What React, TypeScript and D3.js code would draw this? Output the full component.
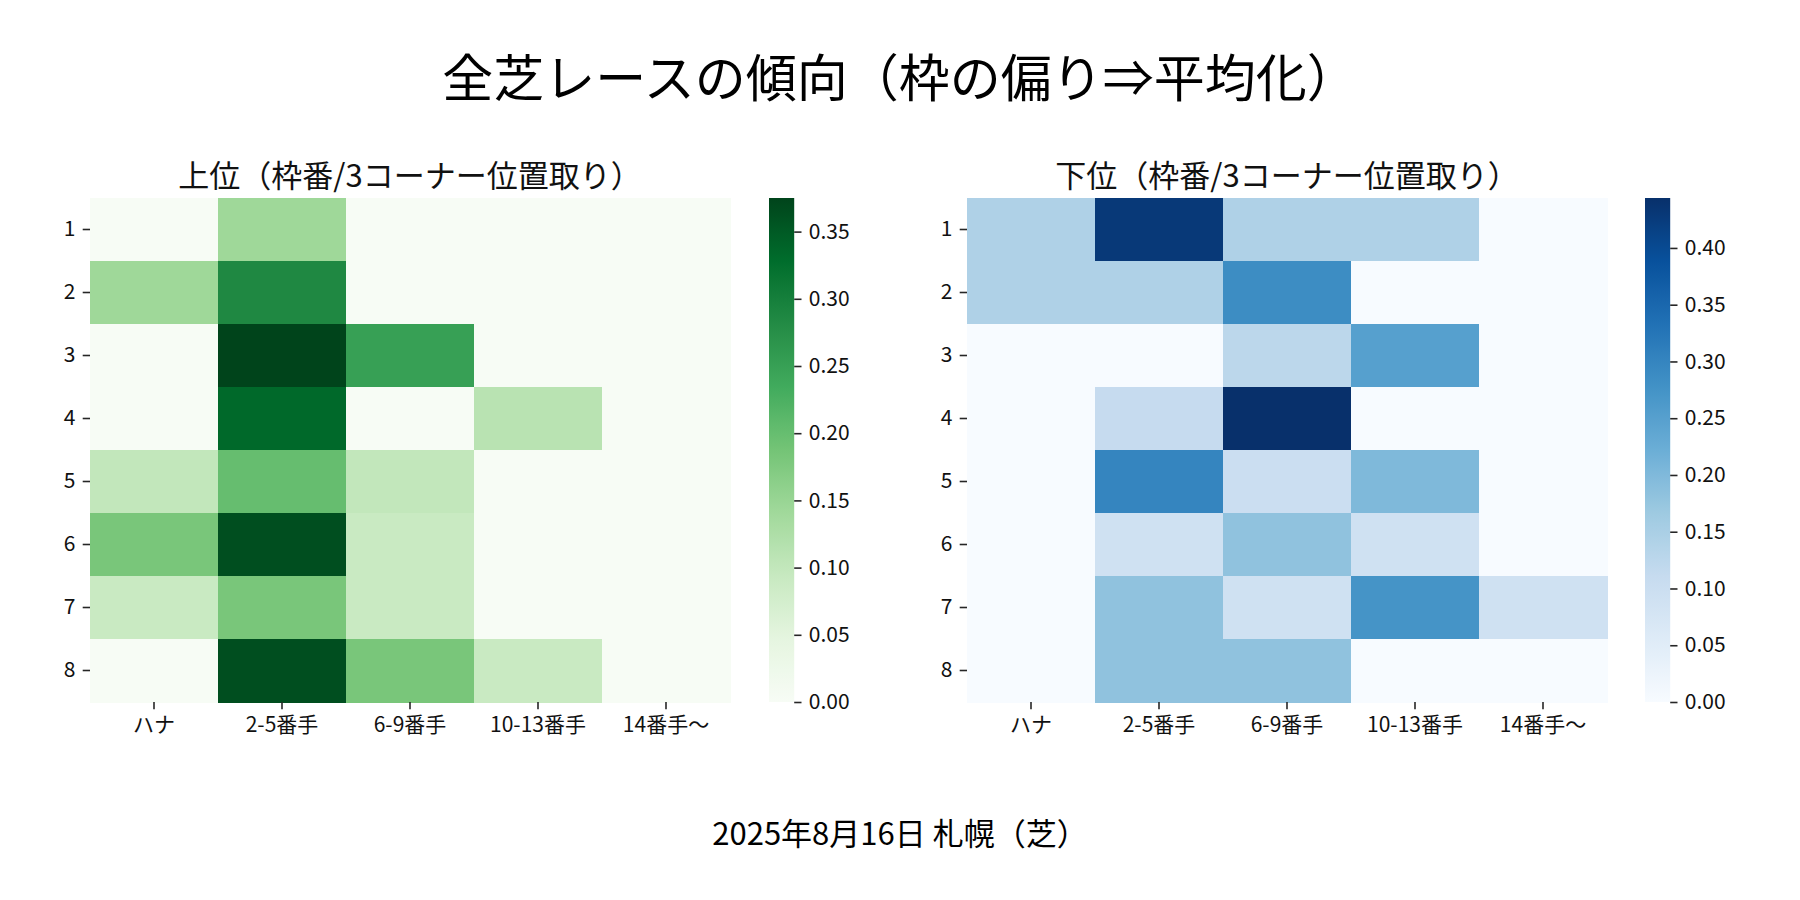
import React from 'react';
import * as d3 from 'd3';

const positions = ['ハナ', '2-5番手', '6-9番手', '10-13番手', '14番手～'];
const gates = ['1', '2', '3', '4', '5', '6', '7', '8'];

// 上位（枠番 x 3コーナー位置取り）
const upperRows = [
  [0, 0.143, 0, 0, 0],
  [0.143, 0.286, 0, 0, 0],
  [0, 0.375, 0.25, 0, 0],
  [0, 0.333, 0, 0.111, 0],
  [0.1, 0.2, 0.1, 0, 0],
  [0.182, 0.364, 0.091, 0, 0],
  [0.091, 0.182, 0.091, 0, 0],
  [0, 0.364, 0.182, 0.091, 0],
];

// 下位
const lowerRows = [
  [0.143, 0.429, 0.143, 0.143, 0],
  [0.143, 0.143, 0.286, 0, 0],
  [0, 0, 0.125, 0.25, 0],
  [0, 0.111, 0.444, 0, 0],
  [0, 0.3, 0.1, 0.2, 0],
  [0, 0.091, 0.182, 0.091, 0],
  [0, 0.182, 0.091, 0.273, 0.091],
  [0, 0.182, 0.182, 0, 0],
];

const upperTicks = [0, 0.05, 0.1, 0.15, 0.2, 0.25, 0.3, 0.35];
const lowerTicks = [0, 0.05, 0.1, 0.15, 0.2, 0.25, 0.3, 0.35, 0.4];

const greens = ['#f7fcf5', '#e5f5e0', '#c7e9c0', '#a1d99b', '#74c476', '#41ab5d', '#238b45', '#006d2c', '#00441b'];
const blues = ['#f7fbff', '#deebf7', '#c6dbef', '#9ecae1', '#6baed6', '#4292c6', '#2171b5', '#08519c', '#08306b'];

const FONT = '"Noto Sans CJK JP", "Noto Sans CJK SC", sans-serif';
const W = 1800;
const H = 900;
const TICK = 7.3;
const PAD = 7.3;

const App: React.FC = () => {
  const svgRef = React.useRef<SVGSVGElement>(null);

  React.useEffect(() => {
    if (!svgRef.current) return;
    const svg = d3.select(svgRef.current);
    svg.selectAll('*').remove();

    svg.append('rect').attr('width', W).attr('height', H).attr('fill', '#fff');

    const defs = svg.append('defs');

    const panels = [
      { id: 'g', rows: upperRows, ticks: upperTicks, palette: greens, x0: 90, cbX: 769, title: '上位（枠番/3コーナー位置取り）' },
      { id: 'b', rows: lowerRows, ticks: lowerTicks, palette: blues, x0: 967, cbX: 1645, title: '下位（枠番/3コーナー位置取り）' },
    ];

    const top = 198;
    const hmW = 640;
    const hmH = 504;
    const cbW = 25.2;

    panels.forEach(p => {
      const vmax = d3.max(p.rows.flat()) || 1;
      const color = d3.scaleLinear<string>()
        .domain(p.palette.map((_, i) => (vmax * i) / (p.palette.length - 1)))
        .range(p.palette)
        .interpolate(d3.interpolateRgb)
        .clamp(true);

      const x = d3.scaleBand().domain(positions).range([p.x0, p.x0 + hmW]);
      const y = d3.scaleBand().domain(gates).range([top, top + hmH]);

      const g = svg.append('g');

      // セル
      p.rows.forEach((row, ri) => {
        row.forEach((v, ci) => {
          g.append('rect')
            .attr('x', x(positions[ci])!)
            .attr('y', y(gates[ri])!)
            .attr('width', x.bandwidth() + 0.5)
            .attr('height', y.bandwidth() + 0.5)
            .attr('fill', color(v))
            .attr('shape-rendering', 'crispEdges');
        });
      });

      // X軸
      const xAxis = d3.axisBottom(x).tickSize(TICK).tickPadding(PAD);
      const gx = g.append('g')
        .attr('transform', `translate(0,${top + hmH})`)
        .call(xAxis);
      gx.select('.domain').remove();

      // Y軸
      const yAxis = d3.axisLeft(y).tickSize(TICK).tickPadding(PAD);
      const gy = g.append('g')
        .attr('transform', `translate(${p.x0},0)`)
        .call(yAxis);
      gy.select('.domain').remove();

      [gx, gy].forEach(ax => {
        ax.selectAll('line').attr('stroke', '#262626').attr('stroke-width', 1.6);
        ax.selectAll('text')
          .attr('fill', '#111')
          .style('font-family', FONT)
          .style('font-size', '21px');
      });

      // タイトル
      svg.append('text')
        .attr('x', p.x0 + hmW / 2)
        .attr('y', 173)
        .attr('text-anchor', 'middle')
        .attr('dominant-baseline', 'central')
        .style('font-family', FONT)
        .style('font-size', '31px')
        .attr('fill', '#111')
        .text(p.title);

      // カラーバー
      const gradId = `grad-${p.id}`;
      const grad = defs.append('linearGradient')
        .attr('id', gradId)
        .attr('x1', 0).attr('y1', 1).attr('x2', 0).attr('y2', 0);
      d3.range(0, 1.0001, 1 / 32).forEach(t => {
        grad.append('stop')
          .attr('offset', t)
          .attr('stop-color', color(t * vmax));
      });

      const cbScale = d3.scaleLinear().domain([0, vmax]).range([top + hmH, top]);
      svg.append('rect')
        .attr('x', p.cbX)
        .attr('y', top)
        .attr('width', cbW)
        .attr('height', hmH)
        .attr('fill', `url(#${gradId})`);

      const cbAxis = d3.axisRight(cbScale)
        .tickValues(p.ticks)
        .tickFormat(d3.format('.2f'))
        .tickSize(TICK)
        .tickPadding(PAD);
      const gc = svg.append('g')
        .attr('transform', `translate(${p.cbX + cbW},0)`)
        .call(cbAxis);
      gc.select('.domain').remove();
      gc.selectAll('line').attr('stroke', '#262626').attr('stroke-width', 1.6);
      gc.selectAll('text')
        .attr('fill', '#111')
        .style('font-family', FONT)
        .style('font-size', '21px');
    });

    // 全体タイトル
    svg.append('text')
      .attr('x', W / 2)
      .attr('y', 75)
      .attr('text-anchor', 'middle')
      .attr('dominant-baseline', 'central')
      .style('font-family', FONT)
      .style('font-size', '51px')
      .attr('fill', '#000')
      .text('全芝レースの傾向（枠の偏り⇒平均化）');

    // 日付
    svg.append('text')
      .attr('x', W / 2)
      .attr('y', 831)
      .attr('text-anchor', 'middle')
      .attr('dominant-baseline', 'central')
      .style('font-family', FONT)
      .style('font-size', '31px')
      .attr('fill', '#000')
      .text('2025年8月16日 札幌（芝）');
  }, []);

  return (
    <svg
      ref={svgRef}
      width={W}
      height={H}
      style={{ position: 'absolute', left: 0, top: 0, display: 'block' }}
    />
  );
};

export default App;
